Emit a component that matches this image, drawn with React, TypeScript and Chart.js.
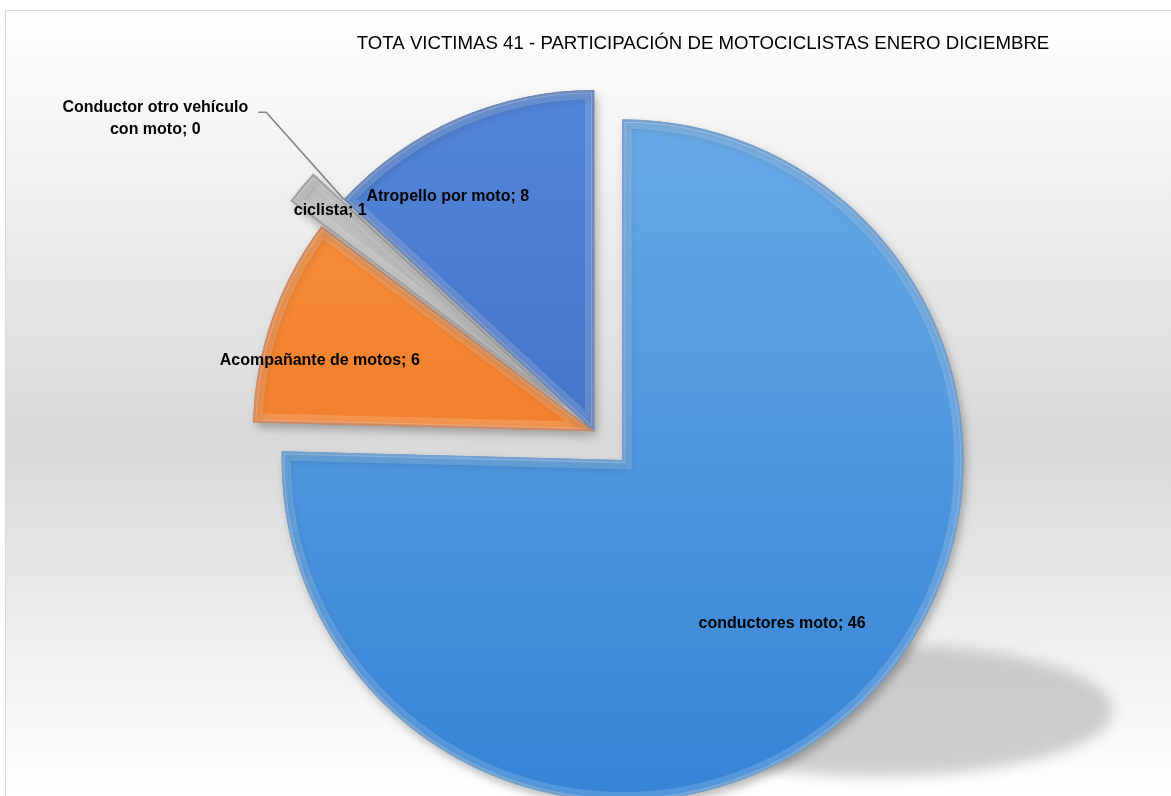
import React, { useEffect, useRef } from "react";
import { Chart, registerables } from "chart.js";

Chart.register(...registerables);

const TITLE = "TOTA VICTIMAS 41 - PARTICIPACIÓN DE MOTOCICLISTAS ENERO DICIEMBRE";
const categories = [
  "conductores moto",
  "Acompañante de motos",
  "ciclista",
  "Conductor otro vehículo con moto",
  "Atropello por moto",
];
const values = [46, 6, 1, 0, 8];

const colorTop = ["#6aabe6", "#f8933f", "#c8c8c8", "#ffc000", "#5285d8"];
const colorBottom = ["#3584d6", "#ea6b1b", "#8e8e8e", "#e0a800", "#3861b4"];
const edgeColor = ["#2e70b6", "#b9531a", "#777777", "#b08400", "#2a4e94"];
const explode = [41, 0, 40, 0, 0];
const labelRadius = [0.67, 0.83, 0.89, 1.58, 0.81];
const labelShiftDeg = [0, -4.85, 0, -7.3, -8.35];

const LABEL_FONT = 'bold 16px "Liberation Sans", Arial, sans-serif';

function wrapText(ctx: CanvasRenderingContext2D, text: string, maxW: number): string[] {
  const words = text.split(" ");
  const lines: string[] = [];
  let cur = "";
  for (const w of words) {
    const test = cur ? cur + " " + w : w;
    if (cur && ctx.measureText(test).width > maxW) {
      lines.push(cur);
      cur = w;
    } else cur = test;
  }
  if (cur) lines.push(cur);
  return lines;
}

const backgroundPlugin = {
  id: "excelBackground",
  beforeDraw(chart: any) {
    const { ctx, width, height } = chart;
    ctx.save();
    ctx.fillStyle = "#ffffff";
    ctx.fillRect(0, 0, width, height);
    const g = ctx.createLinearGradient(0, 10, 0, height);
    g.addColorStop(0, "#ffffff");
    g.addColorStop(0.55, "#d9d9d9");
    g.addColorStop(1, "#ffffff");
    ctx.fillStyle = g;
    ctx.fillRect(5.5, 10.5, width, height);
    ctx.strokeStyle = "#d9d9d9";
    ctx.lineWidth = 1;
    ctx.beginPath();
    ctx.moveTo(5.5, height);
    ctx.lineTo(5.5, 10.5);
    ctx.lineTo(width, 10.5);
    ctx.stroke();
    // title
    const family = '"Liberation Sans Narrow", "Liberation Sans", Arial, sans-serif';
    ctx.font = `22px ${family}`;
    const w22 = ctx.measureText(TITLE).width;
    const size = (22 * 693) / w22;
    ctx.font = `${size.toFixed(2)}px ${family}`;
    ctx.fillStyle = "#000000";
    ctx.textAlign = "center";
    ctx.textBaseline = "middle";
    ctx.fillText(TITLE, 703, 44);
    ctx.restore();
  },
};

const explodePlugin = {
  id: "explodeSlices",
  afterDatasetsUpdate(chart: any) {
    const meta = chart.getDatasetMeta(0);
    meta.data.forEach((arc: any, i: number) => {
      const e = explode[i];
      if (!e) return;
      const mid = (arc.startAngle + arc.endAngle) / 2;
      arc.x += Math.cos(mid) * e;
      arc.y += Math.sin(mid) * e;
    });
  },
};

const shadowLabelPlugin = {
  id: "shadowAndLabels",
  beforeDatasetsDraw(chart: any) {
    const { ctx } = chart;
    const meta = chart.getDatasetMeta(0);
    const main = meta.data[0];
    // soft floor shadow
    ctx.save();
    ctx.filter = "blur(7px)";
    ctx.fillStyle = "rgba(175,175,175,0.6)";
    ctx.beginPath();
    ctx.ellipse(main.x + 255, main.y + 250, 235, 66, 0, 0, Math.PI * 2);
    ctx.fill();
    ctx.restore();
    ctx.save();
    ctx.shadowColor = "rgba(0,0,0,0.28)";
    ctx.shadowBlur = 10;
    ctx.shadowOffsetX = 3;
    ctx.shadowOffsetY = 5;
  },
  afterDatasetsDraw(chart: any) {
    const { ctx } = chart;
    ctx.restore();
    const meta = chart.getDatasetMeta(0);
    // bevel highlight band along slice edges
    meta.data.forEach((arc: any) => {
      if (!arc.circumference) return;
      const orig = arc.options;
      arc.options = Object.assign({}, orig, {
        backgroundColor: "rgba(0,0,0,0)",
        borderColor: "rgba(255,255,255,0.16)",
        borderWidth: 9,
        borderAlign: "inner",
        borderJoinStyle: "miter",
      });
      arc.draw(ctx);
      arc.options = Object.assign({}, orig, {
        backgroundColor: "rgba(0,0,0,0)",
        borderColor: "rgba(255,255,255,0.22)",
        borderWidth: 3,
        borderAlign: "inner",
        borderJoinStyle: "miter",
      });
      arc.draw(ctx);
      arc.options = orig;
    });
    ctx.save();
    ctx.font = LABEL_FONT;
    ctx.fillStyle = "#000000";
    ctx.textAlign = "center";
    ctx.textBaseline = "middle";
    meta.data.forEach((arc: any, i: number) => {
      const { x, y, startAngle, endAngle, outerRadius } = arc.getProps(
        ["x", "y", "startAngle", "endAngle", "outerRadius"],
        true
      );
      const midRaw = (startAngle + endAngle) / 2;
      const mid = midRaw + (labelShiftDeg[i] * Math.PI) / 180;
      const r = outerRadius * labelRadius[i];
      const lx = x + Math.cos(mid) * r;
      const ly = y + Math.sin(mid) * r;
      const text = `${categories[i]}; ${values[i]}`;
      if (labelRadius[i] > 1) {
        const lines = wrapText(ctx, text, 195);
        const lh = 22;
        const maxW = Math.max(...lines.map((l) => ctx.measureText(l).width));
        lines.forEach((l, k) => {
          ctx.fillText(l, lx, ly + (k - (lines.length - 1) / 2) * lh);
        });
        const ex = x + Math.cos(midRaw) * outerRadius;
        const ey = y + Math.sin(midRaw) * outerRadius;
        const sx = lx + maxW / 2 + 10;
        const sy = ly - 6;
        ctx.save();
        ctx.strokeStyle = "#858585";
        ctx.lineWidth = 1.6;
        ctx.beginPath();
        ctx.moveTo(sx, sy);
        ctx.lineTo(sx + 8, sy);
        ctx.lineTo(ex, ey);
        ctx.stroke();
        ctx.restore();
      } else {
        ctx.fillText(text, lx, ly);
      }
    });
    ctx.restore();
  },
};

export default function App() {
  const canvasRef = useRef<HTMLCanvasElement | null>(null);

  useEffect(() => {
    const canvas = canvasRef.current;
    if (!canvas) return;
    const chart = new Chart(canvas, {
      type: "pie",
      data: {
        labels: categories,
        datasets: [
          {
            data: values,
            clip: false,
            backgroundColor: (c: any) => {
              const i = c.dataIndex;
              const area = c.chart.chartArea;
              if (!area) return colorTop[i];
              const g = c.chart.ctx.createLinearGradient(0, 90, 0, 790);
              g.addColorStop(0, colorTop[i]);
              g.addColorStop(1, colorBottom[i]);
              return g;
            },
            borderColor: edgeColor,
            borderWidth: 2,
            borderAlign: "inner",
          } as any,
        ],
      },
      options: {
        responsive: false,
        animation: false,
        events: [],
        radius: 341,
        layout: { padding: { left: 20, right: 3, top: 66, bottom: 0 } },
        plugins: {
          legend: { display: false },
          title: { display: false },
          tooltip: { enabled: false },
        },
      } as any,
      plugins: [backgroundPlugin, explodePlugin, shadowLabelPlugin],
    });
    return () => chart.destroy();
  }, []);

  return (
    <div style={{ position: "fixed", left: 0, top: 0, width: 1171, height: 796 }}>
      <canvas ref={canvasRef} width={1171} height={796} style={{ width: 1171, height: 796, display: "block" }} />
    </div>
  );
}
